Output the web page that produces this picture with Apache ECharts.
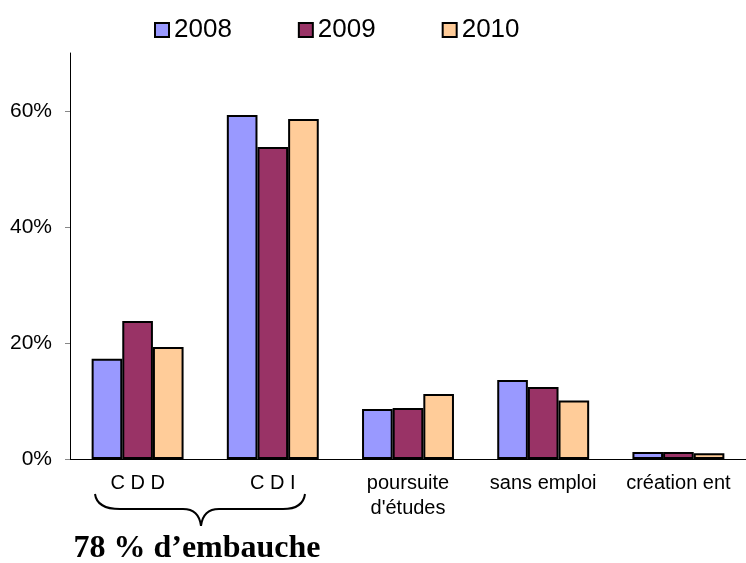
<!DOCTYPE html>
<html>
<head>
<meta charset="utf-8">
<script src="https://cdn.jsdelivr.net/npm/echarts@6/dist/echarts.min.js"></script>
<style>
html, body { margin: 0; padding: 0; background: #fff; }
#main { width: 746px; height: 563px; }
</style>
</head>
<body>
<div id="main"></div>
<script>
// données (en %)
var categories = ['C D D', 'C D I', 'poursuite\nd\'études', 'sans emploi', 'création ent'];
var years = ['2008', '2009', '2010'];
var values2008 = [17.3, 59.3, 8.6, 13.6, 1.2];
var values2009 = [23.8, 53.8, 8.8, 12.4, 1.2];
var values2010 = [19.3, 58.6, 11.2, 10.1, 1.0];
var yTicks = [0, 20, 40, 60];
var colors = ['#9999FF', '#993366', '#FFCC99'];

var font = 'Liberation Sans, Arial, sans-serif';
var chart = echarts.init(document.getElementById('main'));

function makeSeries(name, data, i) {
  return {
    name: name,
    type: 'bar',
    data: data,
    barGap: '0%',
    barCategoryGap: '32%',
    itemStyle: { color: colors[i], borderColor: '#000', borderWidth: 2 }
  };
}

// accolade sous CDD + CDI
var braceStyle = { fill: 'none', stroke: '#000', lineWidth: 2 };
function curve(x1, y1, cx, cy, x2, y2) {
  return { type: 'bezierCurve', shape: { x1: x1, y1: y1, cpx1: cx, cpy1: cy, x2: x2, y2: y2 }, style: braceStyle };
}
function seg(x1, y1, x2, y2) {
  return { type: 'line', shape: { x1: x1, y1: y1, x2: x2, y2: y2 }, style: braceStyle };
}

chart.setOption({
  animation: false,
  backgroundColor: '#fff',
  legend: {
    top: 12,
    left: 149,
    icon: 'rect',
    itemWidth: 14,
    itemHeight: 14,
    itemGap: 66,
    textStyle: { fontFamily: font, fontSize: 26, color: '#000' },
    data: years
  },
  grid: { left: 70, top: 53, width: 680, bottom: 104 },
  xAxis: {
    type: 'category',
    data: categories,
    axisLine: { lineStyle: { color: '#000', width: 1 } },
    axisTick: { length: 6, lineStyle: { color: '#888' } },
    axisLabel: { fontFamily: font, fontSize: 20, color: '#000', margin: 12, lineHeight: 25, interval: 0 }
  },
  yAxis: {
    type: 'value',
    min: 0,
    max: 70,
    interval: 20,
    splitLine: { show: false },
    axisLine: { show: true, lineStyle: { color: '#000', width: 1 } },
    axisTick: { show: true, length: 5, lineStyle: { color: '#888' }, customValues: yTicks },
    axisLabel: { fontFamily: font, fontSize: 21, color: '#000', margin: 18,
      formatter: '{value}%', customValues: yTicks }
  },
  graphic: [
    {
      type: 'group',
      children: [
        curve(95, 494, 97, 509, 120, 509),
        seg(120, 509, 183, 509),
        curve(183, 509, 199, 509, 201, 526),
        curve(201, 526, 203, 509, 219, 509),
        seg(219, 509, 283, 509),
        curve(283, 509, 303, 509, 305, 494)
      ]
    },
    {
      type: 'text',
      x: 197,
      y: 549,
      style: {
        text: '78 % d\u2019embauche',
        font: 'bold 32px "Liberation Serif", "Times New Roman", serif',
        fill: '#000',
        align: 'center',
        verticalAlign: 'middle'
      }
    }
  ],
  series: [
    makeSeries(years[0], values2008, 0),
    makeSeries(years[1], values2009, 1),
    makeSeries(years[2], values2010, 2)
  ]
});
</script>
</body>
</html>
